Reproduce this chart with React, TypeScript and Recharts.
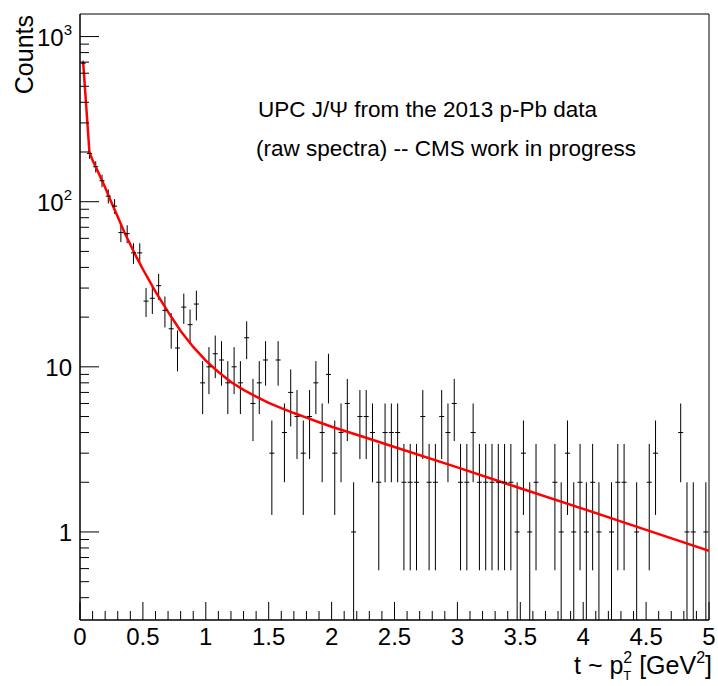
import React from "react";
import {
  ComposedChart,
  ErrorBar,
  Line,
  ReferenceArea,
  Scatter,
  XAxis,
  YAxis,
} from "recharts";

// histogram: 100 bins of 0.05 GeV^2 from 0 to 5
const binWidth = 0.05;
const counts = [
  690, 196, 163, 134, 108, 94, 65, 64, 49, 49,
  25, 26, 31, 22, 17, 13, 23, 18, 24, 8,
  10, 12, 11, 8, 10, 8, 15, 6, 8, 11,
  3, 11, 4, 7, 5, 3, 5, 8, 4, 9,
  3, 4, 6, 1, 5, 5, 4, 2, 4, 4,
  4, 2, 2, 2, 5, 2, 2, 5, 4, 6,
  2, 2, 4, 2, 2, 2, 2, 2, 2, 1,
  3, 1, 2, 0, 0, 2, 1, 3, 1, 2,
  1, 2, 1, 0, 1, 2, 2, 0, 1, 0,
  2, 3, 0, 0, 0, 4, 1, 1, 0, 1,
];

// fitted curve
const fitT = [
  0.025, 0.075, 0.1, 0.15, 0.2, 0.25, 0.3, 0.35, 0.4, 0.45, 0.5, 0.6, 0.7,
  0.8, 0.9, 1.0, 1.1, 1.2, 1.3, 1.4, 1.5, 1.6, 1.7, 1.8, 1.9, 2.0, 2.25,
  2.5, 3.0, 3.5, 4.0, 4.5, 5.0,
];
const fitY = [
  700, 200, 178, 148, 122, 99, 81, 66, 55, 46, 39, 28.5, 21.5, 16.5, 13.2,
  10.9, 9.3, 8.1, 7.25, 6.6, 6.05, 5.62, 5.25, 4.93, 4.62, 4.34, 3.77,
  3.27, 2.46, 1.84, 1.38, 1.03, 0.77,
];

const xTickLabels = ["0", "0.5", "1", "1.5", "2", "2.5", "3", "3.5", "4", "4.5", "5"];
const yMajorTicks = [1, 10, 100, 1000];
const yTickLabels = [
  { base: "1", exp: "" },
  { base: "10", exp: "" },
  { base: "10", exp: "2" },
  { base: "10", exp: "3" },
];
const yMinorTicks = [
  0.4, 0.5, 0.6, 0.7, 0.8, 0.9,
  2, 3, 4, 5, 6, 7, 8, 9,
  20, 30, 40, 50, 60, 70, 80, 90,
  200, 300, 400, 500, 600, 700, 800, 900,
];

const Y_MIN = 0.293;
const Y_MAX = 1370;
const FONT = "'Liberation Sans', Arial, Helvetica, sans-serif";

const points = counts
  .map((n, i) => ({
    t: binWidth * (i + 0.5),
    y: n,
    err: [Math.min(Math.sqrt(n), n - Y_MIN), Math.sqrt(n)],
  }))
  .filter((p) => p.y > 0);

const fitData = fitT.map((t, i) => ({ t, y: fitY[i] }));

const xTicks = Array.from({ length: 51 }, (_, k) => k / 10);

function XTick(props: any) {
  const { x, y, payload } = props;
  const k = Math.round(payload.value * 10);
  const major = k % 5 === 0;
  return (
    <g>
      <line x1={x} x2={x} y1={y} y2={y - (major ? 18 : 9)} stroke="#000" />
      {major && (
        <text
          x={x}
          y={y + 25}
          textAnchor="middle"
          fontFamily={FONT}
          fontSize={24}
          fill="#000"
        >
          {xTickLabels[k / 5]}
        </text>
      )}
    </g>
  );
}

function YTick(props: any) {
  const { x, y, payload } = props;
  const idx = yMajorTicks.indexOf(payload.value);
  const major = idx >= 0;
  const lab = major ? yTickLabels[idx] : null;
  return (
    <g>
      <line x1={x} x2={x + (major ? 19 : 9)} y1={y} y2={y} stroke="#000" />
      {lab && (
        <text
          x={x - 8}
          y={y + 9}
          textAnchor="end"
          fontFamily={FONT}
          fontSize={24}
          fill="#000"
        >
          {lab.base}
          {lab.exp && (
            <tspan fontSize={15} dy={-11}>
              {lab.exp}
            </tspan>
          )}
        </text>
      )}
    </g>
  );
}

function DataMark(props: any) {
  const { cx, cy } = props;
  return <line x1={cx - 2.5} x2={cx + 2.5} y1={cy} y2={cy} stroke="#000" />;
}

export default function App() {
  return (
    <div style={{ position: "absolute", left: 0, top: 0, width: 718, height: 686, background: "#fff" }}>
      <ComposedChart
        width={718}
        height={686}
        margin={{ top: 14, right: 9, bottom: 0, left: 0 }}
      >
        <XAxis
          dataKey="t"
          type="number"
          domain={[0, 5]}
          allowDataOverflow
          ticks={xTicks}
          interval={0}
          tickSize={0}
          tickMargin={0}
          tickLine={false}
          tick={(p: any) => <XTick {...p} />}
          height={66}
          axisLine={{ stroke: "#000" }}
        />
        <YAxis
          dataKey="y"
          type="number"
          scale="log"
          domain={[Y_MIN, Y_MAX]}
          allowDataOverflow
          ticks={[...yMajorTicks, ...yMinorTicks]}
          interval={0}
          tickSize={0}
          tickMargin={0}
          tickLine={false}
          tick={(p: any) => <YTick {...p} />}
          width={80}
          axisLine={{ stroke: "#000" }}
        />
        <ReferenceArea
          x1={0}
          x2={5}
          y1={Y_MIN}
          y2={Y_MAX}
          fill="none"
          stroke="#000"
          strokeWidth={1}
          ifOverflow="visible"
        />
        <Scatter
          data={points}
          dataKey="y"
          shape={(p: any) => <DataMark {...p} />}
          isAnimationActive={false}
        >
          <ErrorBar
            dataKey="err"
            direction="y"
            width={0}
            stroke="#000"
            strokeWidth={1}
            isAnimationActive={false}
          />
        </Scatter>
        <Line
          data={fitData}
          dataKey="y"
          type="linear"
          stroke="#ff0000"
          strokeWidth={2.5}
          dot={false}
          isAnimationActive={false}
        />
      </ComposedChart>
      <svg
        width={718}
        height={686}
        style={{ position: "absolute", left: 0, top: 0, pointerEvents: "none" }}
      >
        <text
          transform="translate(33,15) rotate(-90)"
          textAnchor="end"
          fontFamily={FONT}
          fontSize={25}
          fill="#000"
        >
          Counts
        </text>
        <text x={712} y={674} textAnchor="end" fontFamily={FONT} fontSize={25} fill="#000">
          t ~ p
          <tspan fontSize={13} dy={6}>T</tspan>
          <tspan fontSize={16} dx={-8} dy={-17}>2</tspan>
          <tspan dy={11}> [GeV</tspan>
          <tspan fontSize={16} dy={-11}>2</tspan>
          <tspan dy={11}>]</tspan>
        </text>
        <text x={258} y={117} fontFamily={FONT} fontSize={22.5} fill="#000">
          UPC J/Ψ from the 2013 p-Pb data
        </text>
        <text x={256} y={156} fontFamily={FONT} fontSize={22.5} fill="#000">
          (raw spectra) -- CMS work in progress
        </text>
      </svg>
    </div>
  );
}
